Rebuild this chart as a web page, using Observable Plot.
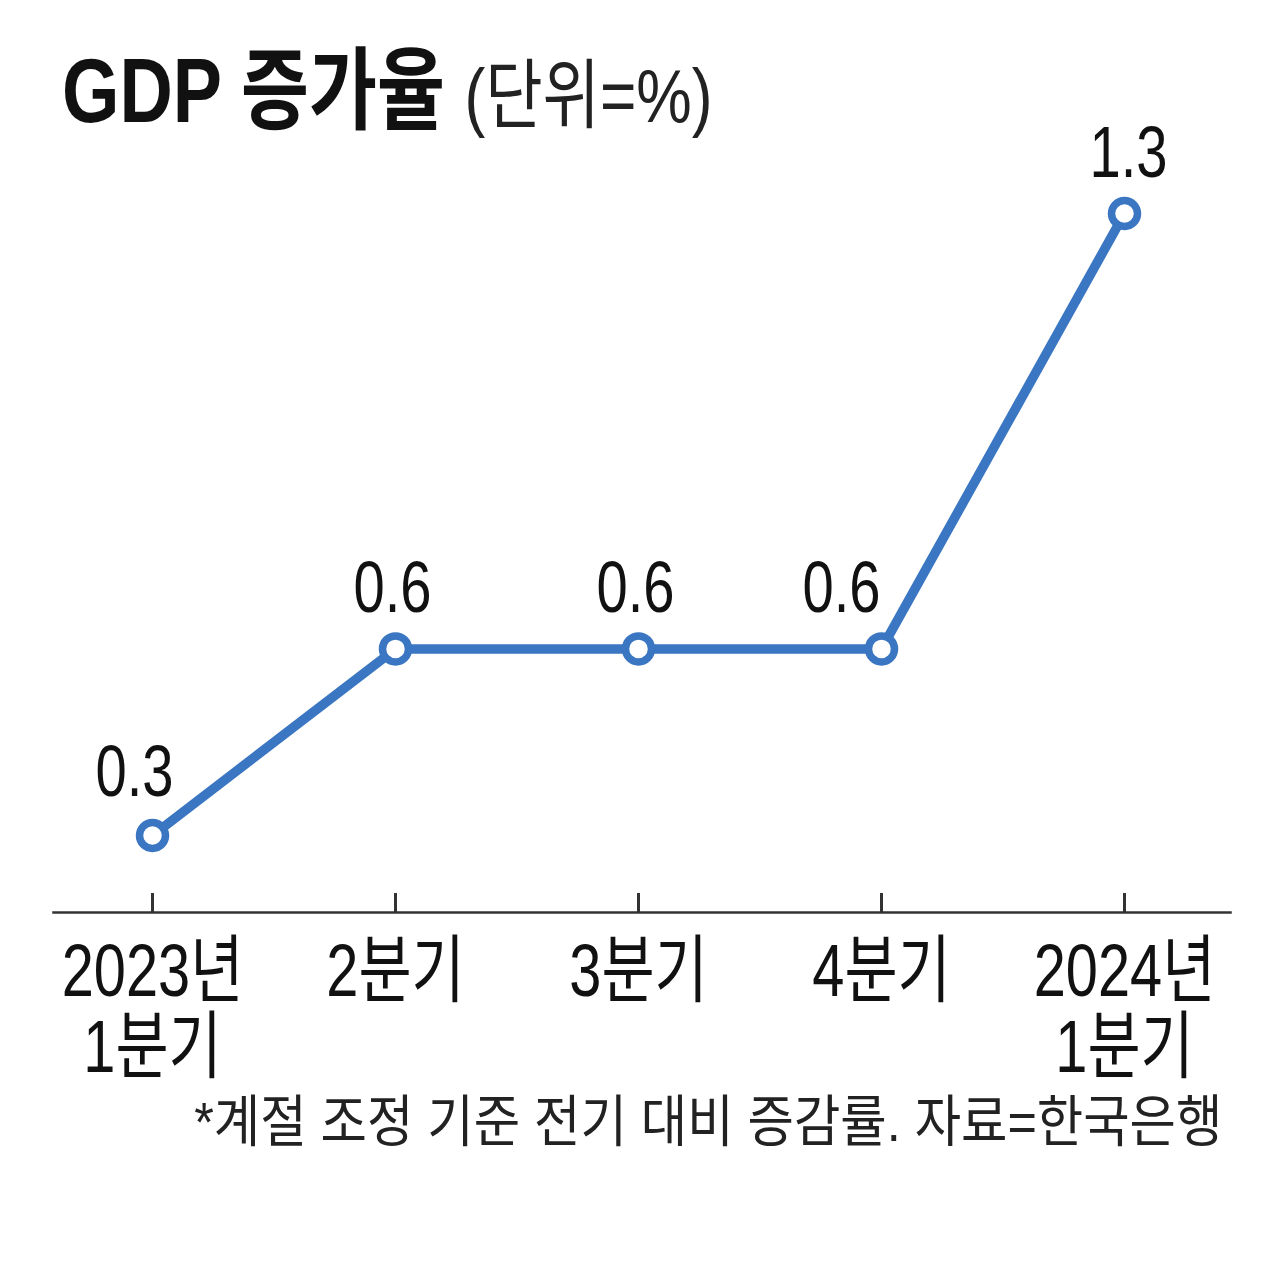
<!DOCTYPE html>
<html><head><meta charset="utf-8">
<script src="https://cdn.jsdelivr.net/npm/d3@7"></script>
<script src="https://cdn.jsdelivr.net/npm/@observablehq/plot@0.6"></script>
<style>
body{margin:0;background:#fff;width:1280px;height:1287px;overflow:hidden;position:relative;font-family:"Liberation Sans","Noto Sans CJK KR",sans-serif;color:#111}
#title{position:absolute;left:62px;top:46px;white-space:nowrap;transform:scaleX(0.82);transform-origin:left top;line-height:1}
#title .b{font-weight:bold;font-size:90px}
#title .u{font-weight:normal;font-size:76px;color:#222;margin-left:24px}
#chart{position:absolute;left:0;top:160px}
#caption{position:absolute;right:58px;top:1094px;white-space:nowrap;font-size:56px;line-height:1;transform:scaleX(0.9);transform-origin:right top;color:#222}
</style></head><body>
<div id="title"><span class="b">GDP 증가율</span><span class="u">(단위=%)</span></div>
<div id="chart"></div>
<div id="caption">*계절 조정 기준 전기 대비 증감률. 자료=한국은행</div>
<script>
const categories = ["2023년\n1분기", "2분기", "3분기", "4분기", "2024년\n1분기"];
const values = [0.3, 0.6, 0.6, 0.6, 1.3];
const valueLabels = ["0.3", "0.6", "0.6", "0.6", "1.3"];

const data = categories.map((c, i) => ({q: c, v: values[i], label: valueLabels[i], i}));
const TOP = 160;
const blue = "#3a76c2";
const font = "'Liberation Sans','Noto Sans CJK KR',sans-serif";
const labelOpts = {x: "q", y: "v", text: "label", lineAnchor: "bottom", fontSize: 72, fill: "#111"};

const plot = Plot.plot({
  width: 1280,
  height: 920,
  marginLeft: 53, marginRight: 50, marginTop: 0, marginBottom: 168,
  x: {type: "point", domain: categories, range: [151, 1125], padding: 0, label: null},
  y: {domain: [0.3, 1.3], range: [835 - TOP, 213 - TOP], axis: null},
  style: {fontFamily: font, color: "#111", background: "transparent", overflow: "visible"},
  marks: [
    Plot.frame({anchor: "bottom", stroke: "#333", strokeWidth: 2.5}),
    Plot.axisX({tickSize: -19, tickPadding: 48, strokeWidth: 3, stroke: "#333", fontSize: 74, lineHeight: 1.03, lineAnchor: "top", fill: "#111"}),
    Plot.line(data, {x: "q", y: "v", stroke: blue, strokeWidth: 9.5}),
    Plot.dot(data, {x: "q", y: "v", r: 13, fill: "white", stroke: blue, strokeWidth: 7.5}),
    Plot.text(data.filter(d => d.i === 0), {...labelOpts, dy: -40, dx: -18}),
    Plot.text(data.filter(d => d.i === 1 || d.i === 2), {...labelOpts, dy: -37, dx: -3}),
    Plot.text(data.filter(d => d.i === 3), {...labelOpts, dy: -37, dx: -40}),
    Plot.text(data.filter(d => d.i === 4), {...labelOpts, dy: -37, dx: 4})
  ]
});
document.getElementById("chart").appendChild(plot);

// condense glyphs horizontally (reference uses a narrow typeface)
plot.querySelectorAll('g[aria-label="x-axis tick label"] text').forEach(t => {
  t.setAttribute("transform", (t.getAttribute("transform") || "") + " scale(0.78,1)");
});
plot.querySelectorAll('g[aria-label="text"] text').forEach(t => {
  t.setAttribute("transform", (t.getAttribute("transform") || "") + " scale(0.78,1)");
});
</script>
</body></html>
